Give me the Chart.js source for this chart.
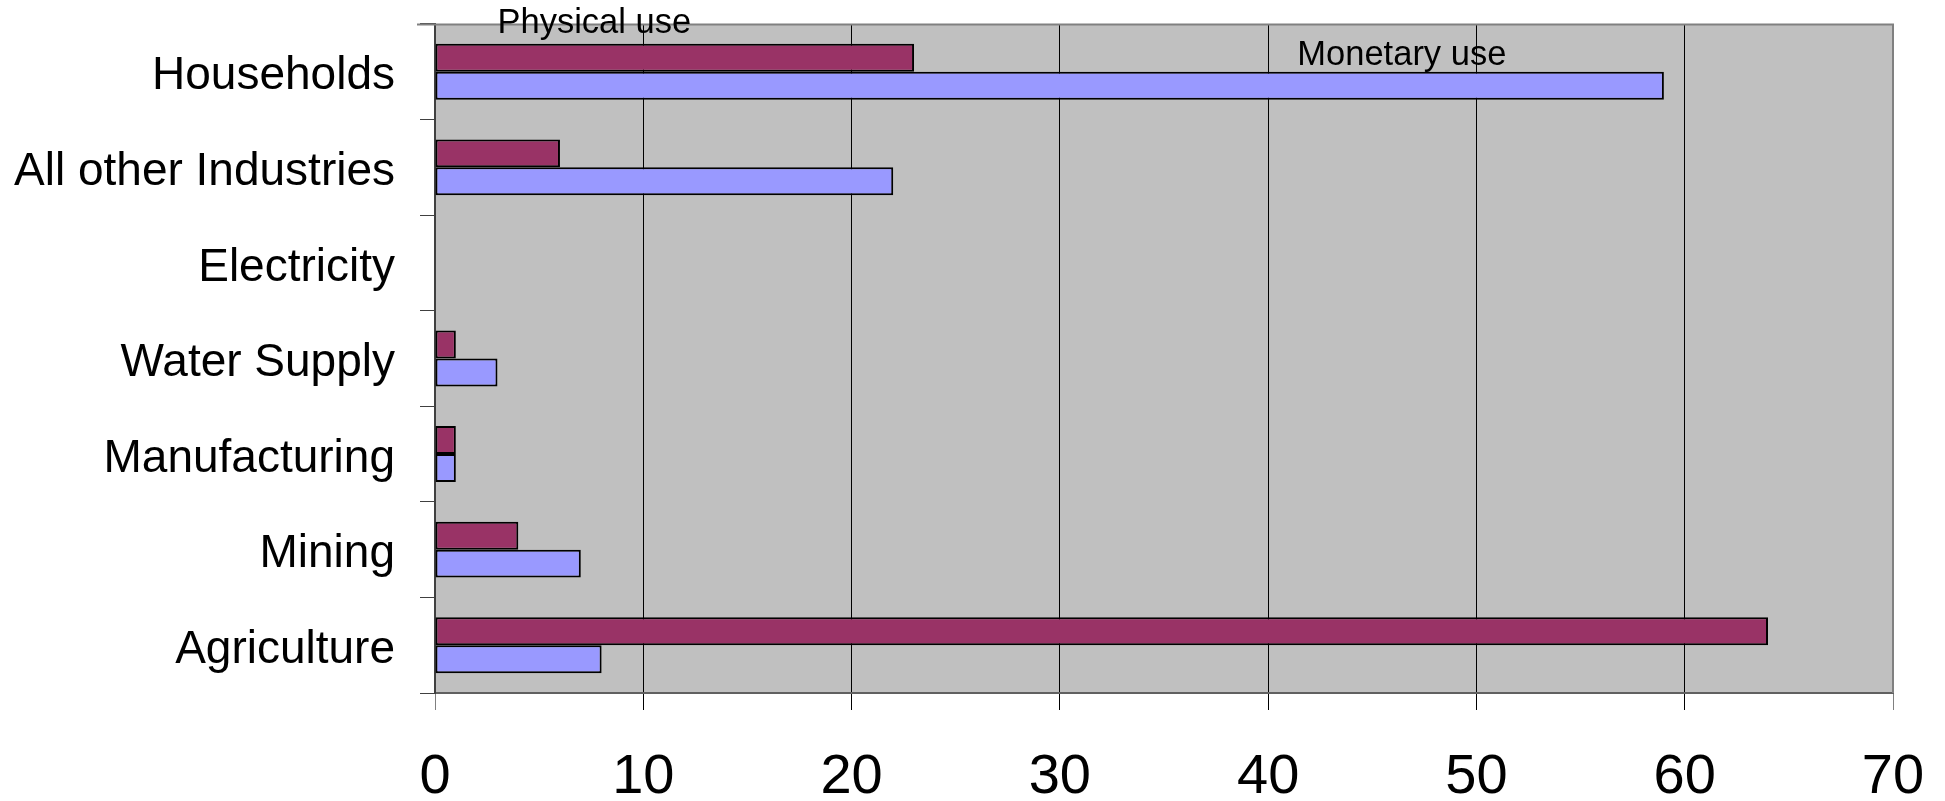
<!DOCTYPE html>
<html>
<head>
<meta charset="utf-8">
<title>Physical and monetary water use</title>
<script src="https://cdn.jsdelivr.net/npm/chart.js@4/dist/chart.umd.min.js"></script>
<style>
  html, body { margin: 0; padding: 0; background: #fff; }
  #wrap { width: 1945px; height: 801px; position: relative; }
</style>
</head>
<body>
<div id="wrap"><canvas id="useChart"></canvas></div>
<script>
// categories, top to bottom
const sectors = ['Households', 'All other Industries', 'Electricity', 'Water Supply', 'Manufacturing', 'Mining', 'Agriculture'];
// values (Electricity has no bar)
const physicalUse = [23, 6, null, 1, 1, 4, 64];
const monetaryUse = [59, 22, null, 3, 1, 7, 8];
const xTicks = [0, 10, 20, 30, 40, 50, 60, 70];

const FONT = "'Liberation Sans', Arial, sans-serif";

// grey plot background + grey top/right frame
const plotFrame = {
  id: 'plotFrame',
  beforeDraw(chart) {
    const a = chart.chartArea, ctx = chart.ctx;
    ctx.save();
    ctx.fillStyle = '#C0C0C0';
    ctx.fillRect(a.left, a.top, a.right - a.left, a.bottom - a.top);
    ctx.restore();
  },
  afterDatasetsDraw(chart) {
    const a = chart.chartArea, ctx = chart.ctx;
    ctx.save();
    ctx.strokeStyle = '#808080';
    ctx.lineWidth = 2;
    ctx.beginPath();
    ctx.moveTo(a.left - 18, a.top + 0.5);
    ctx.lineTo(a.right, a.top + 0.5);
    ctx.lineTo(a.right, a.bottom);
    ctx.stroke();
    ctx.restore();
  }
};

// the two series names written inside the plot
const seriesNames = {
  id: 'seriesNames',
  afterDraw(chart) {
    const x = chart.scales.x, a = chart.chartArea, ctx = chart.ctx;
    ctx.save();
    ctx.fillStyle = '#000';
    ctx.font = '34.5px ' + FONT;
    ctx.textAlign = 'left';
    ctx.textBaseline = 'alphabetic';
    ctx.fillText('Physical use', x.getPixelForValue(3.0), a.top + 9);
    ctx.fillText('Monetary use', x.getPixelForValue(41.4), a.top + 41);
    ctx.restore();
  }
};

const ctx = document.getElementById('useChart').getContext('2d');
new Chart(ctx, {
  type: 'bar',
  data: {
    labels: sectors,
    datasets: [{
      label: 'Physical use',
      data: physicalUse,
      backgroundColor: '#993366',
      borderColor: '#000',
      borderWidth: 2,
      borderSkipped: false
    }, {
      label: 'Monetary use',
      data: monetaryUse,
      backgroundColor: '#9999FF',
      borderColor: '#000',
      borderWidth: 2,
      borderSkipped: false
    }]
  },
  options: {
    indexAxis: 'y',
    responsive: true,
    maintainAspectRatio: false,
    animation: false,
    datasets: {
      bar: { categoryPercentage: 0.585, barPercentage: 1.0 }
    },
    layout: { padding: { top: 24, right: 52, left: 0, bottom: 0 } },
    plugins: {
      legend: { display: false },
      tooltip: { enabled: false }
    },
    scales: {
      x: {
        min: 0,
        max: 70,
        afterBuildTicks(scale) {
          scale.ticks = xTicks.map(v => ({ value: v }));
        },
        afterFit(scale) {
          scale.height = 108;
          scale.paddingLeft = 0;
          scale.paddingRight = 0;
        },
        grid: {
          color: c => (c.tick && (c.tick.value === 0 || c.tick.value === 70)) ? '#808080' : '#000',
          lineWidth: 1,
          drawTicks: true,
          tickLength: 17
        },
        border: { display: true, color: '#606060', width: 2 },
        ticks: {
          color: '#000',
          font: { family: FONT, size: 56 },
          padding: 34,
          maxRotation: 0
        }
      },
      y: {
        afterFit(scale) {
          scale.width = 435;
          scale.paddingTop = 0;
          scale.paddingBottom = 0;
          // the original labels sit a few px below the category centre
          if (!scale._nudged) {
            const drawLabels = scale.drawLabels.bind(scale);
            scale.drawLabels = function (area) {
              this.ctx.save();
              this.ctx.translate(0, 5);
              drawLabels(area);
              this.ctx.restore();
            };
            scale._nudged = true;
          }
        },
        grid: {
          offset: true,
          drawOnChartArea: false,
          drawTicks: true,
          tickLength: 15,
          color: '#404040'
        },
        border: { display: true, color: '#404040', width: 2 },
        ticks: {
          color: '#000',
          font: { family: FONT, size: 46 },
          padding: 25
        }
      }
    }
  },
  plugins: [plotFrame, seriesNames]
});
</script>
</body>
</html>
